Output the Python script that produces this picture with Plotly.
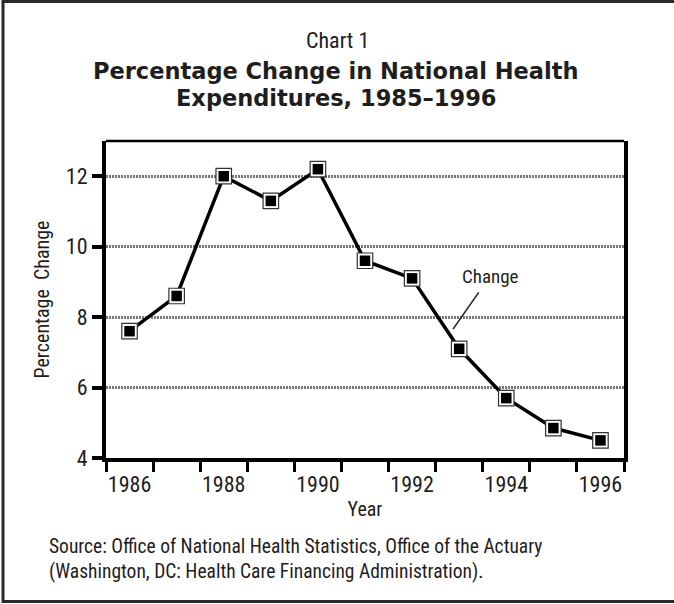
import plotly.graph_objects as go

# ---- data ----
years = [1986, 1987, 1988, 1989, 1990, 1991, 1992, 1993, 1994, 1995, 1996]
pct_change = [7.6, 8.6, 12.0, 11.3, 12.2, 9.6, 9.1, 7.1, 5.7, 4.85, 4.5]
x_tick_labels = [1986, 1988, 1990, 1992, 1994, 1996]
y_ticks = [4, 6, 8, 10, 12]

W, H = 674, 604
L, R, T, B = 106, 50, 141, 146
PW, PH = W - L - R, H - T - B

def px_x(p):
    return (p - L) / PW

def px_y(p):
    return (H - B - p) / PH

NARROW = "Roboto Condensed, Liberation Sans Narrow, Roboto, sans-serif"
BOLD = "DejaVu Sans, Verdana, sans-serif"
TXT = "#1e1e1e"

fig = go.Figure()
fig.add_trace(go.Scatter(x=years, y=pct_change, mode="lines",
                         line=dict(color="black", width=3.5),
                         hoverinfo="skip", showlegend=False))
fig.add_trace(go.Scatter(x=years, y=pct_change, mode="markers",
                         marker=dict(symbol="square", size=15.5, color="white",
                                     line=dict(color="#333333", width=1.2)),
                         hoverinfo="skip", showlegend=False))
fig.add_trace(go.Scatter(x=years, y=pct_change, mode="markers",
                         marker=dict(symbol="square", size=10.5, color="black",
                                     line=dict(width=0)),
                         showlegend=False))

fig.update_layout(
    width=W, height=H,
    margin=dict(l=L, r=R, t=T, b=B, pad=0),
    paper_bgcolor="white", plot_bgcolor="white",
    font=dict(family=NARROW, size=21, color=TXT),
    xaxis=dict(
        range=[years[0] - 0.5, years[-1] + 0.5],
        tickvals=x_tick_labels, ticktext=[str(v) for v in x_tick_labels],
        ticks="outside", ticklen=4, tickcolor="rgba(0,0,0,0)", tickwidth=3,
        showline=True, linecolor="black", linewidth=4,
        showgrid=False, zeroline=False,
        minor=dict(tickvals=[y + 0.5 for y in [years[0] - 1] + years],
                   ticks="outside", ticklen=10, tickwidth=3, tickcolor="black",
                   showgrid=False),
        title=dict(text="Year", font=dict(size=20), standoff=7),
        tickfont=dict(size=22),
    ),
    yaxis=dict(
        range=[4, 13],
        tickvals=y_ticks, ticktext=[str(v) for v in y_ticks],
        ticks="outside", ticklen=10, tickwidth=4, tickcolor="black",
        showline=True, linecolor="black", linewidth=4, mirror=True,
        showgrid=True, gridcolor="#777777", gridwidth=3, griddash="2px,1px",
        zeroline=False,
        title=dict(text="Percentage  Change", font=dict(size=20), standoff=12),
        tickfont=dict(size=22),
    ),
    shapes=[
        dict(type="line", xref="paper", yref="paper", x0=0, x1=1, y0=1, y1=1,
             line=dict(color="black", width=2.5)),
        dict(type="path", xref="paper", yref="paper",
             path=f"M {px_x(690)} {px_y(1.5)} L {px_x(3)} {px_y(1.5)} "
                  f"L {px_x(3)} {px_y(601.5)} L {px_x(690)} {px_y(601.5)}",
             line=dict(color="#2a2a2a", width=3)),
    ],
    annotations=[
        dict(text="Chart 1", xref="paper", yref="paper", x=px_x(337), y=px_y(40),
             xanchor="center", yanchor="middle", showarrow=False,
             font=dict(family=NARROW, size=22, color=TXT)),
        dict(text="<b>Percentage Change in National Health</b>", xref="paper", yref="paper",
             x=px_x(336), y=px_y(70.5), xanchor="center", yanchor="middle", showarrow=False,
             font=dict(family=BOLD, size=22.5, color=TXT)),
        dict(text="<b>Expenditures, 1985\u20131996</b>", xref="paper", yref="paper",
             x=px_x(336), y=px_y(98), xanchor="center", yanchor="middle", showarrow=False,
             font=dict(family=BOLD, size=22.5, color=TXT)),
        dict(text="Change", x=1992.87, y=7.66, xref="x", yref="y",
             showarrow=True, arrowhead=0, arrowwidth=1.6, arrowcolor="#222222",
             ax=37, ay=-53, axref="pixel", ayref="pixel", startstandoff=4,
             font=dict(family=NARROW, size=19, color=TXT)),
        dict(text="Source: Office of National Health Statistics, Office of the Actuary",
             xref="paper", yref="paper", x=px_x(47), y=px_y(546), xanchor="left",
             yanchor="middle", showarrow=False,
             font=dict(family=NARROW, size=19.5, color=TXT)),
        dict(text="(Washington, DC: Health Care Financing Administration).",
             xref="paper", yref="paper", x=px_x(47), y=px_y(571), xanchor="left",
             yanchor="middle", showarrow=False,
             font=dict(family=NARROW, size=19.5, color=TXT)),
    ],
)

fig.write_html("out.html", config={"displayModeBar": False},
               post_script="document.body.style.margin='0';")
